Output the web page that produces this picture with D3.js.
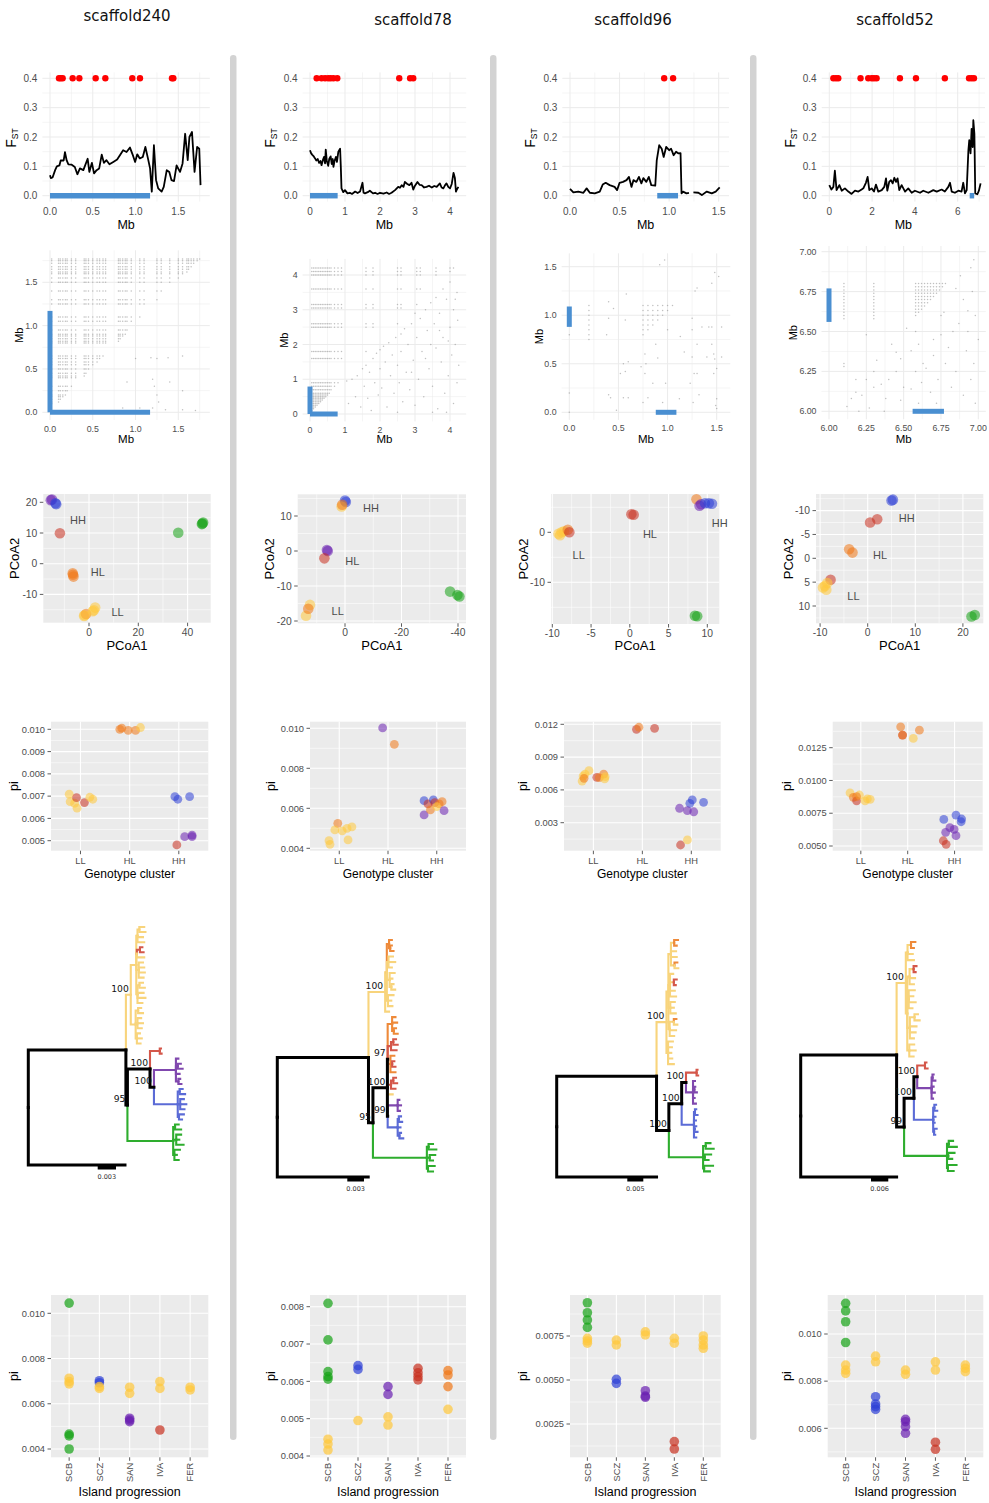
<!DOCTYPE html>
<html>
<head>
<meta charset="utf-8">
<script src="https://cdn.jsdelivr.net/npm/d3@7"></script>
<style>
  body { margin: 0; background: #fff; }
  svg { display: block; }
</style>
</head>
<body>
<script>
// ---------------------------------------------------------------------------
// Data
// ---------------------------------------------------------------------------
const scaffolds = ["scaffold240", "scaffold78", "scaffold96", "scaffold52"];
const clusterCats = ["LL", "HL", "HH"];
const islandCats = ["SCB", "SCZ", "SAN", "IVA", "FER"];

// Sliding-window FST along each scaffold: [Mb, FST]; null breaks the line
const fst240 = [[0,0.070],[0.01,0.060],[0.03,0.062],[0.06,0.087],[0.08,0.100],[0.11,0.103],[0.125,0.120],[0.16,0.120],[0.175,0.148],[0.195,0.120],[0.215,0.107],[0.25,0.106],[0.29,0.098],[0.32,0.073],[0.35,0.093],[0.39,0.087],[0.44,0.126],[0.46,0.081],[0.49,0.112],[0.515,0.076],[0.545,0.087],[0.575,0.093],[0.605,0.140],[0.63,0.112],[0.66,0.121],[0.695,0.107],[0.74,0.115],[0.785,0.123],[0.825,0.141],[0.855,0.155],[0.895,0.149],[0.935,0.164],[0.965,0.141],[0.995,0.115],[1.02,0.141],[1.05,0.127],[1.085,0.132],[1.115,0.166],[1.145,0.127],[1.17,0.093],[1.19,0.014],[1.215,0.172],[1.24,0.053],[1.265,0.025],[1.305,0.014],[1.33,0.030],[1.365,0.087],[1.395,0.081],[1.42,0.053],[1.45,0.050],[1.48,0.103],[1.52,0.081],[1.55,0.110],[1.58,0.211],[1.61,0.121],[1.63,0.200],[1.66,0.217],[1.69,0.081],[1.72,0.166],[1.745,0.160],[1.76,0.036]];
const fst78 = [[0,0.155],[0.03,0.145],[0.06,0.140],[0.1,0.135],[0.14,0.128],[0.18,0.120],[0.22,0.125],[0.26,0.112],[0.3,0.118],[0.33,0.104],[0.37,0.122],[0.4,0.132],[0.43,0.110],[0.45,0.157],[0.48,0.118],[0.52,0.102],[0.55,0.125],[0.59,0.134],[0.62,0.108],[0.65,0.125],[0.67,0.098],[0.7,0.118],[0.74,0.132],[0.77,0.115],[0.81,0.150],[0.86,0.160],[0.88,0.100],[0.9,0.025],[0.95,0.012],[1.0,0.019],[1.07,0.008],[1.14,0.010],[1.2,0.006],[1.29,0.014],[1.36,0.009],[1.43,0.014],[1.5,0.044],[1.53,0.010],[1.57,0.008],[1.65,0.012],[1.71,0.017],[1.8,0.008],[1.86,0.010],[1.93,0.006],[2.0,0.010],[2.1,0.007],[2.19,0.011],[2.26,0.006],[2.33,0.010],[2.43,0.019],[2.52,0.030],[2.57,0.027],[2.62,0.036],[2.67,0.030],[2.71,0.047],[2.78,0.040],[2.84,0.036],[2.9,0.044],[2.95,0.021],[3.0,0.034],[3.07,0.047],[3.13,0.037],[3.19,0.036],[3.26,0.028],[3.33,0.030],[3.4,0.034],[3.48,0.028],[3.55,0.033],[3.62,0.030],[3.71,0.042],[3.76,0.028],[3.81,0.025],[3.86,0.036],[3.9,0.042],[3.95,0.030],[4.0,0.025],[4.05,0.040],[4.1,0.078],[4.14,0.060],[4.17,0.014],[4.2,0.022],[4.24,0.030]];
const fst96 = [[0,0.023],[0.034,0.011],[0.084,0.014],[0.135,0.010],[0.168,0.025],[0.2,0.010],[0.25,0.008],[0.3,0.014],[0.33,0.038],[0.36,0.044],[0.4,0.036],[0.45,0.030],[0.475,0.019],[0.5,0.044],[0.535,0.047],[0.57,0.053],[0.595,0.064],[0.62,0.030],[0.64,0.053],[0.67,0.047],[0.695,0.064],[0.72,0.042],[0.74,0.060],[0.77,0.047],[0.795,0.064],[0.82,0.036],[0.86,0.034],[0.875,0.120],[0.9,0.172],[0.925,0.160],[0.945,0.132],[0.97,0.166],[1.0,0.155],[1.02,0.160],[1.045,0.138],[1.07,0.150],[1.095,0.144],[1.115,0.145],[1.125,0.008],[1.14,0.014],[1.175,0.008],[1.2,0.010],null,[1.245,0.011],[1.295,0.010],[1.33,0.002],[1.38,0.014],[1.43,0.008],[1.47,0.014],[1.51,0.028]];
const fst52 = [[0,0.036],[0.1,0.021],[0.19,0.030],[0.26,0.085],[0.34,0.019],[0.47,0.036],[0.58,0.017],[0.73,0.025],[0.89,0.014],[1.04,0.006],[1.2,0.017],[1.36,0.014],[1.51,0.021],[1.59,0.025],[1.71,0.044],[1.79,0.064],[1.87,0.019],[1.98,0.025],[2.09,0.014],[2.18,0.038],[2.29,0.014],[2.45,0.019],[2.57,0.030],[2.65,0.059],[2.71,0.017],[2.8,0.047],[2.88,0.053],[2.96,0.042],[3.04,0.061],[3.12,0.047],[3.19,0.059],[3.27,0.019],[3.38,0.036],[3.54,0.014],[3.69,0.025],[3.85,0.010],[4.0,0.017],[4.24,0.010],[4.39,0.017],[4.63,0.010],[4.86,0.019],[5.02,0.014],[5.25,0.021],[5.4,0.014],[5.56,0.030],[5.64,0.044],[5.72,0.014],[5.87,0.010],[6.03,0.017],[6.18,0.014],[6.26,0.044],[6.34,0.008],[6.42,0.019],[6.5,0.155],[6.54,0.189],[6.6,0.144],[6.65,0.228],[6.7,0.166],[6.73,0.257],[6.78,0.211],[6.82,0.008],[6.92,0.005],[6.99,0.017],[7.07,0.042]];

// Outlier windows (Mb), plotted along FST = 0.4
const outliers240 = [0.105,0.125,0.148,0.265,0.343,0.534,0.647,0.962,1.052,1.426,1.442];
const outliers78 = [0.19,0.33,0.43,0.52,0.59,0.67,0.78,2.55,2.86,2.95];
const outliers96 = [0.95,1.04];
const outliers52 = [0.19,0.31,0.42,1.46,1.82,1.98,2.09,2.21,3.30,4.05,5.40,6.53,6.65,6.76];

// Candidate inversion / sweep region per scaffold (Mb start, end)
const region240 = [0, 1.17];
const region78 = [0, 0.79];
const region96 = [0.88, 1.09];
const region52 = [6.56, 6.77];

// Linkage: SNP sites in strong LD (every pair is drawn above the diagonal)
const ldSites240 = [0.02,0.1,0.12,0.15,0.18,0.2,0.25,0.3,0.4,0.42,0.45,0.5,0.55,0.58,0.62,0.65,0.8,0.82,0.85,0.88,0.9,0.95,1.05,1.1,1.25,1.3,1.4,1.5,1.55,1.6,1.62,1.65,1.68,1.72,1.75,1.77];
const ldSites78 = [0.05,0.1,0.15,0.2,0.25,0.3,0.35,0.4,0.45,0.5,0.55,0.6,0.7,0.8,0.9,1.6,1.8,2.5,2.6,3.05,3.15,3.6,4.0,4.1,4.2];
const ldSites96 = [0.2,0.75,0.8,0.85,0.9,0.95,1.0,1.05,1.1];
const ldSites52 = [6.1,6.3,6.58,6.6,6.62,6.64,6.66,6.68,6.7,6.72,6.74,6.76,6.78,6.8];
// Other linked pairs [Mb, Mb]
const ldPairs240 = [[1.05,0.05],[1.2,0.05],[1.35,0.03],[1.55,0.03],[1.7,0.02],[1.25,0.2],[1.55,0.25],[1.2,0.38],[1.4,0.35],[0.9,0.35],[1.0,0.62],[1.18,0.63],[1.25,0.62],[1.38,0.63],[1.55,0.65],[1.22,0.3],[1.27,0.12],[0.85,0.05]];
const ldPairs78 = [[1.05,0.95],[1.1,0.3],[1.2,1.0],[1.3,0.5],[1.35,1.1],[1.45,0.2],[1.5,1.3],[1.55,0.8],[1.6,1.4],[1.65,0.45],[1.7,1.2],[1.75,0.1],[1.8,1.6],[1.85,0.9],[1.9,1.75],[1.95,0.55],[2.0,1.85],[2.0,1.3],[2.05,0.75],[2.1,1.95],[2.15,1.5],[2.2,0.2],[2.25,2.05],[2.3,1.1],[2.35,1.7],[2.4,0.6],[2.45,2.2],[2.5,1.4],[2.55,0.9],[2.6,2.3],[2.6,1.8],[2.65,0.35],[2.7,2.45],[2.75,1.2],[2.8,2.0],[2.85,0.7],[2.9,2.6],[2.95,1.55],[3.0,2.9],[3.0,0.25],[3.05,2.2],[3.1,1.0],[3.15,2.75],[3.2,1.8],[3.25,0.5],[3.3,3.0],[3.35,2.4],[3.4,1.3],[3.45,3.2],[3.5,0.8],[3.55,2.6],[3.6,1.9],[3.6,3.35],[3.65,0.15],[3.7,2.9],[3.75,1.5],[3.8,3.6],[3.8,2.2],[3.85,0.6],[3.9,3.3],[3.95,1.1],[4.0,3.8],[4.0,2.5],[4.05,1.7],[4.1,0.3],[4.1,3.0],[4.15,2.0],[4.2,3.5],[4.2,0.9],[4.25,1.4],[3.9,0.05],[3.5,0.05],[2.5,0.05],[4.22,2.7],[3.3,1.6],[3.7,2.4],[3.95,2.1],[2.9,1.2],[3.45,2.0],[4.15,3.3]];
const ldPairs96 = [[0.0,0.8],[0.0,0.2],[0.0,0.0],[0.4,1.14],[0.4,0.97],[0.38,0.8],[0.45,1.07],[0.4,0.18],[0.42,0.15],[0.48,0.02],[0.55,0.5],[0.57,0.42],[0.6,0.52],[0.52,0.4],[0.55,0.15],[0.6,0.15],[0.57,0.95],[0.58,1.22],[0.73,0.47],[0.77,0.6],[0.77,0.4],[0.78,0.5],[0.75,0.1],[0.8,0.15],[0.85,0.3],[0.88,0.7],[0.9,0.56],[0.92,1.52],[0.97,1.57],[0.98,0.3],[1.0,0.85],[0.95,0.1],[1.13,0.78],[1.17,0.62],[1.12,0.14],[1.25,0.97],[1.25,0.85],[1.25,0.57],[1.26,0.1],[1.23,0.3],[1.28,1.25],[1.3,1.28],[1.27,0.4],[1.32,0.18],[1.3,0.4],[1.3,0.7],[1.35,0.88],[1.4,0.57],[1.42,0.88],[1.45,1.33],[1.48,1.44],[1.45,0.7],[1.47,0.6],[1.5,0.45],[1.48,0.55],[1.5,0.04],[1.5,0.14],[1.52,1.4],[1.55,0.57],[1.55,0.88],[1.45,0.88],[1.47,0.4],[1.49,0.07]];
const ldPairs52 = [[6.1,6.28],[6.12,6.03],[6.15,6.08],[6.18,6.12],[6.18,6.2],[6.2,6.0],[6.22,6.1],[6.25,6.2],[6.25,6.48],[6.3,6.25],[6.32,6.32],[6.3,6.15],[6.35,6.17],[6.38,6.08],[6.4,6.2],[6.42,6.42],[6.45,6.37],[6.45,6.25],[6.48,6.07],[6.5,6.15],[6.52,6.52],[6.55,6.14],[6.58,6.25],[6.58,6.5],[6.6,6.05],[6.6,6.42],[6.62,6.18],[6.63,6.3],[6.65,6.27],[6.68,6.12],[6.7,6.45],[6.7,6.35],[6.72,6.05],[6.73,6.2],[6.75,6.48],[6.75,6.6],[6.77,6.62],[6.78,6.3],[6.8,6.4],[6.82,6.15],[6.83,6.5],[6.85,6.77],[6.85,6.25],[6.87,6.55],[6.88,6.85],[6.9,6.1],[6.9,6.7],[6.92,6.38],[6.93,6.5],[6.95,6.9],[6.95,6.2],[6.97,6.95],[6.97,6.3],[6.98,6.6],[6.98,6.05],[7.0,6.45],[6.96,6.75],[6.93,6.63],[6.55,6.38],[6.48,6.33],[6.37,6.0],[6.27,6.02]];

// PCoA of individuals within each region: [PCoA1, PCoA2, island colour]
const pcoa240 = [[-15.5,20.7,"P"],[-15,20.9,"P"],[-13.3,19.4,"B"],[-13.6,19.7,"B"],[-11.8,9.9,"R"],[36.2,10.1,"G"],[46,13.1,"G"],[46.3,13.4,"G"],[45.8,12.9,"G"],[-6.6,-3.1,"O"],[-6.3,-4.2,"O"],[-6.5,-3.6,"O"],[-2,-17,"Y"],[-1.2,-16.4,"O"],[1.5,-15.5,"Y"],[2.5,-14.3,"Y"],[2,-15.2,"Y"],[-1.8,-16.8,"Y"]];
const pcoa78 = [[0,14.4,"B"],[-0.3,14,"B"],[1.2,12.7,"Y"],[1,13.2,"O"],[6.1,0,"P"],[6.4,0.3,"P"],[7.3,-2.1,"R"],[12.4,-15.4,"Y"],[13.8,-18.5,"Y"],[13,-16.5,"O"],[-37.2,-11.6,"G"],[-39.8,-12.6,"G"],[-40.5,-13,"G"]];
const pcoa96 = [[-9.2,-0.3,"Y"],[-8.8,0,"Y"],[-9,-0.6,"Y"],[-8.5,0.2,"Y"],[-8,0.5,"O"],[-7.8,0,"R"],[0.2,3.6,"R"],[0.5,3.5,"R"],[8.6,6.6,"O"],[9,5.3,"P"],[9.2,5.6,"P"],[9.7,5.8,"B"],[10.2,5.8,"B"],[10.6,5.7,"B"],[8.4,-16.7,"G"],[8.7,-16.8,"G"]];
const pcoa52 = [[5,-12.1,"B"],[5.3,-12.3,"B"],[0.5,-7.5,"R"],[2,-8.2,"R"],[-3.9,-1.9,"O"],[-3.2,-1.2,"O"],[-7.8,4.5,"R"],[-9,5.8,"Y"],[-8.7,6.6,"Y"],[-9.4,6.1,"Y"],[-8.5,5.2,"Y"],[21.8,12.2,"G"],[22.5,11.9,"G"]];
// Genotype-cluster annotations [label, PCoA1, PCoA2]
const pcoaLabels240 = [["HH",-4.5,14.2],["HL",3.6,-2.7],["LL",11.6,-15.8]];
const pcoaLabels78 = [["HH",-9.2,12.3],["HL",-2.6,-3],["LL",2.6,-17.2]];
const pcoaLabels96 = [["HH",11.6,1.9],["HL",2.6,-0.4],["LL",-6.6,-4.5]];
const pcoaLabels52 = [["HH",8.2,-8.5],["HL",2.6,-0.7],["LL",-3,8]];

// Nucleotide diversity per genotype cluster: [cluster, jitter, pi, colour]
const piCluster240 = [["LL",-0.23,0.00709,"Y"],["LL",-0.21,0.00675,"Y"],["LL",-0.12,0.00668,"Y"],["LL",-0.07,0.00646,"Y"],["LL",-0.08,0.00693,"R"],["LL",0.08,0.00671,"R"],["LL",0.19,0.00695,"Y"],["LL",0.25,0.00686,"Y"],["HL",-0.2,0.0100,"O"],["HL",-0.16,0.01005,"O"],["HL",-0.03,0.00995,"O"],["HL",0.12,0.00995,"O"],["HL",0.22,0.01008,"Y"],["HH",-0.08,0.00698,"B"],["HH",-0.02,0.00686,"B"],["HH",0.22,0.00698,"B"],["HH",-0.04,0.00481,"R"],["HH",0.12,0.00518,"P"],["HH",0.27,0.00525,"P"],["HH",0.27,0.00518,"P"]];
const piCluster78 = [["LL",-0.03,0.00525,"O"],["LL",-0.09,0.00492,"Y"],["LL",0.06,0.00487,"Y"],["LL",0.16,0.0050,"Y"],["LL",0.26,0.00507,"Y"],["LL",-0.21,0.00438,"Y"],["LL",-0.19,0.0042,"Y"],["LL",0.18,0.00442,"Y"],["HL",-0.11,0.01002,"P"],["HL",0.13,0.0092,"O"],["HH",-0.26,0.00638,"B"],["HH",-0.26,0.00567,"P"],["HH",-0.18,0.00622,"R"],["HH",-0.07,0.00642,"B"],["HH",-0.04,0.00628,"R"],["HH",-0.13,0.00592,"O"],["HH",0.05,0.00622,"O"],["HH",0.11,0.00633,"O"],["HH",0.0,0.00608,"Y"],["HH",0.15,0.00588,"P"]];
const piCluster96 = [["LL",-0.23,0.00681,"Y"],["LL",-0.21,0.00727,"Y"],["LL",-0.17,0.00745,"Y"],["LL",-0.09,0.00776,"Y"],["LL",-0.19,0.00706,"O"],["LL",0.07,0.00715,"R"],["LL",0.12,0.00712,"O"],["LL",0.21,0.00745,"O"],["LL",0.24,0.00721,"Y"],["LL",0.23,0.0070,"Y"],["HL",-0.12,0.01154,"R"],["HL",-0.07,0.01173,"O"],["HL",0.25,0.01163,"R"],["HH",-0.24,0.00432,"P"],["HH",-0.03,0.00477,"B"],["HH",0.02,0.00508,"B"],["HH",0.25,0.00486,"B"],["HH",-0.08,0.0041,"P"],["HH",0.05,0.0040,"P"],["HH",-0.22,0.00096,"R"],["HH",-0.08,0.00142,"Y"]];
const piCluster52 = [["LL",-0.23,0.00906,"Y"],["LL",-0.16,0.00871,"O"],["LL",-0.09,0.00845,"R"],["LL",-0.03,0.00889,"Y"],["LL",0.09,0.00845,"Y"],["LL",0.14,0.0086,"Y"],["LL",0.2,0.00856,"Y"],["LL",-0.09,0.00876,"O"],["HL",-0.15,0.01409,"O"],["HL",-0.11,0.01346,"R"],["HL",-0.11,0.01346,"O"],["HL",0.12,0.01321,"Y"],["HL",0.25,0.01384,"O"],["HH",-0.23,0.00703,"B"],["HH",0.03,0.00736,"B"],["HH",0.15,0.00706,"B"],["HH",0.14,0.00685,"B"],["HH",-0.1,0.0064,"P"],["HH",-0.01,0.00627,"P"],["HH",-0.19,0.00604,"P"],["HH",0.03,0.00579,"P"],["HH",-0.24,0.0054,"R"],["HH",-0.18,0.00513,"R"]];

// Nucleotide diversity per island: [island, pi, colour]
const piIsland240 = [["SCB",0.01045,"G"],["SCB",0.00713,"Y"],["SCB",0.00698,"Y"],["SCB",0.00688,"Y"],["SCB",0.00466,"G"],["SCB",0.00458,"G"],["SCB",0.0040,"G"],["SCZ",0.00702,"B"],["SCZ",0.00693,"B"],["SCZ",0.00676,"Y"],["SCZ",0.00668,"Y"],["SAN",0.00673,"Y"],["SAN",0.00646,"Y"],["SAN",0.00536,"P"],["SAN",0.00521,"P"],["SAN",0.00528,"P"],["IVA",0.00698,"Y"],["IVA",0.00668,"Y"],["IVA",0.00484,"R"],["FER",0.00673,"Y"],["FER",0.00661,"Y"]];
const piIsland78 = [["SCB",0.00809,"G"],["SCB",0.00711,"G"],["SCB",0.00626,"G"],["SCB",0.00613,"G"],["SCB",0.00606,"G"],["SCB",0.00445,"Y"],["SCB",0.00432,"Y"],["SCB",0.00416,"Y"],["SCZ",0.00642,"B"],["SCZ",0.00632,"B"],["SCZ",0.00495,"Y"],["SAN",0.00586,"P"],["SAN",0.00565,"P"],["SAN",0.00505,"Y"],["SAN",0.00483,"Y"],["IVA",0.00635,"R"],["IVA",0.00623,"R"],["IVA",0.00613,"R"],["IVA",0.00604,"R"],["FER",0.00629,"O"],["FER",0.00617,"O"],["FER",0.00586,"O"],["FER",0.00525,"Y"]];
const piIsland96 = [["SCB",0.00939,"G"],["SCB",0.00882,"G"],["SCB",0.00841,"G"],["SCB",0.00799,"G"],["SCB",0.00737,"Y"],["SCB",0.00722,"Y"],["SCB",0.00709,"Y"],["SCZ",0.00727,"Y"],["SCZ",0.00699,"Y"],["SCZ",0.00504,"B"],["SCZ",0.00481,"B"],["SAN",0.00774,"Y"],["SAN",0.00756,"Y"],["SAN",0.00439,"P"],["SAN",0.00409,"P"],["SAN",0.00402,"P"],["IVA",0.00737,"Y"],["IVA",0.00709,"Y"],["IVA",0.0015,"R"],["IVA",0.00108,"R"],["FER",0.0075,"Y"],["FER",0.00727,"Y"],["FER",0.00699,"Y"],["FER",0.0068,"Y"]];
const piIsland52 = [["SCB",0.0113,"G"],["SCB",0.01098,"G"],["SCB",0.01052,"G"],["SCB",0.00964,"G"],["SCB",0.00868,"Y"],["SCB",0.00847,"Y"],["SCB",0.00833,"Y"],["SCZ",0.00906,"Y"],["SCZ",0.00882,"Y"],["SCZ",0.00734,"B"],["SCZ",0.00703,"B"],["SCZ",0.00692,"B"],["SCZ",0.0068,"B"],["SAN",0.00847,"Y"],["SAN",0.00829,"Y"],["SAN",0.00638,"P"],["SAN",0.00628,"P"],["SAN",0.00607,"P"],["SAN",0.00579,"P"],["IVA",0.00882,"Y"],["IVA",0.00847,"Y"],["IVA",0.00541,"R"],["IVA",0.00511,"R"],["FER",0.00868,"Y"],["FER",0.00854,"Y"],["FER",0.0084,"Y"]];

// Region phylogenies (Newick; branch lengths in 1e-3 substitutions/site).
// Node names: colour letter + optional bootstrap support.
const tree240 = "((((((:0.8,:1.0):0.3,:0.9,:1.1):0.2,((:0.4,:0.6)R:0.5,:1.2):0.1,(:0.7,:0.9,:1.0,:0.8):0.4,((:0.6,:0.9):0.3,:1.0,:1.3,:0.8):0.2):0.9,((:0.5,:0.8):0.4,(:0.6,:0.9,:0.7):0.3,(:0.5,:0.8,:0.6):0.2):0.8)Y100:0.8,(((:0.2,:0.3)R:1.6,((:0.4,(:0.5,:0.8):0.3,:0.6,(:0.3,:0.5):0.4)P:3.6,((:0.5,:0.9):0.3,(:0.6,:1.0,:0.7):0.4,(:0.8,:0.5):0.2)B:3.9)K100:0.65)K100:3.7,((:0.6,:1.0):0.3,(:0.8,:0.5,:1.2):0.5,(:0.9,:0.4,:0.7):0.2)G:7.5)K95:0.25)K:16.0,K:15.85)K;";
const tree78 = "(((((:0.5,(:0.3,:0.6):0.2)O:0.4,(:0.8,:1.2,:0.6):0.3,(:0.9,:0.5,(:0.4,:0.7):0.3):0.5,(:1.0,:0.6,:0.8):0.2):0.3,:0.7)Y100:3.0,((((:0.6,:0.9,(:0.4,:0.7):0.3)O:0.8,((:0.5,:0.8):0.4,:1.0)R:0.6,(:0.7,(:0.4,:0.6)R:0.3,:0.9)O:0.5,((:0.5,:0.7):0.4,:0.8)R:0.6,Y:0.9)K97:0.05,((:0.3,:0.6,:0.4)P:1.8,((:0.4,:0.6):0.2,:0.5,(:0.3,:0.7):0.3)B:1.8)K99:0.05)K100:2.6,((:0.8,:1.4):0.3,(:1.0,:0.6):0.5,(:1.2,:0.9):0.2)G:9.7)K95:0.8)K:16.4,K:16.35)K;";
const tree96 = "((((((O:1.2,O:0.8):1.0,:1.6,:1.8,(O:0.9,:1.2):1.1):0.8,(:1.0,(R:0.9,R:0.6):1.2,:1.5,:1.9):0.5,(:1.4,:1.1,:1.7):0.6,((O:0.8,:1.1):1.3,:2.0,:1.4):0.4):0.6,(:1.5,:1.2,:1.0,:1.3,:1.8):0.5)Y100:3.1,((((:0.3,:0.5)R:3.3,(:0.6,(:0.3,:0.8):0.4,:0.5,:0.9)P:2.2)K100:1.35,((:0.4,:0.8):0.3,:0.6,(:0.5,:0.9):0.2,:0.7)B:3.85)K100:4.0,((:1.5,:2.5):0.8,(:2.0,:1.2):0.5,(:2.8,:1.8):0.3)G:10.7)K100:3.85)K:31.2,K:31.2)K;";
const tree52 = "(((((O:1.5,O:1.0):1.2,:1.8,:2.2):0.6,(((R:1.0,R:0.7):1.4,:1.9,:1.5):0.8,(:2.1,:1.6,:2.4,:1.3):0.5,((:1.2,:1.8):1.6,:2.3,:2.0,:1.4):0.9,(:1.7,:2.2,:1.5):0.7):0.5)Y100:3.2,((((:0.5,:0.9)R:2.7,((:0.4,:1.0):0.3,:0.7,:1.1,:0.5)P:5.0)K100:1.15,((:0.6,:1.0):0.4,:0.8,:0.5,(:0.9,:0.4):0.3)B:6.7)K100:3.4,((:1.5,:2.8):0.6,(:2.2,:1.4):0.4,(:3.0,:2.0):0.3)G:14.9)K99:2.6)K:33.3,K:33.3)K;";
const treeScaleBars = [0.003, 0.003, 0.005, 0.006];

// ---------------------------------------------------------------------------
// Styling / layout
// ---------------------------------------------------------------------------
const pointPal = { Y: "#FFC83C", O: "#F07818", R: "#C8301F", P: "#6A20B0", B: "#2E40D6", G: "#16A316" };
const treePal  = { Y: "#F8D47C", O: "#EE8A3A", R: "#D4574A", P: "#8048AE", B: "#5B6BD6", G: "#2EAD2E", K: "#000000" };
const REGION_BLUE = "#4A8FD1";
const TICK_TXT = "#4D4D4D";
const SANS = "'Liberation Sans', Arial, Helvetica, sans-serif";
const DEJAVU = "'DejaVu Sans', Verdana, sans-serif";

const fstSeries = [fst240, fst78, fst96, fst52];
const outlierSeries = [outliers240, outliers78, outliers96, outliers52];
const regions = [region240, region78, region96, region52];
const ldSites = [ldSites240, ldSites78, ldSites96, ldSites52];
const ldPairs = [ldPairs240, ldPairs78, ldPairs96, ldPairs52];
const pcoaSeries = [pcoa240, pcoa78, pcoa96, pcoa52];
const pcoaLabels = [pcoaLabels240, pcoaLabels78, pcoaLabels96, pcoaLabels52];
const piClusterSeries = [piCluster240, piCluster78, piCluster96, piCluster52];
const piIslandSeries = [piIsland240, piIsland78, piIsland96, piIsland52];
const treeSeries = [tree240, tree78, tree96, tree52];

const titlePos = [[127, 21], [413, 25], [633, 25], [895, 25]];

const fstLayout = [
  { rect: [42.4, 72.4, 209.8, 201.6], xd: [0, 1.5], xr: [50, 178.3], xMaj: [0, 0.5, 1, 1.5], xMin: [0.25, 0.75, 1.25, 1.75], xf: 1, yt: 11 },
  { rect: [302.6, 72.4, 466.2, 201.6], xd: [0, 4], xr: [310, 450], xMaj: [0, 1, 2, 3, 4], xMin: [0.5, 1.5, 2.5, 3.5], xf: 0, yt: 270 },
  { rect: [562.3, 72.4, 729, 201.6], xd: [0, 1.5], xr: [570, 718.7], xMaj: [0, 0.5, 1, 1.5], xMin: [0.25, 0.75, 1.25], xf: 1, yt: 530 },
  { rect: [821.7, 72.4, 985, 201.6], xd: [0, 6], xr: [829.3, 957.7], xMaj: [0, 2, 4, 6], xMin: [1, 3, 5, 7], xf: 0, yt: 790 }
];
const ldLayout = [
  { rect: [42.4, 250.3, 209.8, 420], xd: [0, 1.5], xr: [50, 178.3], yd: [0, 1.5], yr: [412.3, 282.3], maj: [0, 0.5, 1, 1.5], min: [0.25, 0.75, 1.25, 1.75], f: 1, yt: 19 },
  { rect: [302.6, 258.9, 466.2, 421.4], xd: [0, 4], xr: [310, 450], yd: [0, 4], yr: [414, 275], maj: [0, 1, 2, 3, 4], min: [0.5, 1.5, 2.5, 3.5], f: 0, yt: 284 },
  { rect: [561.6, 253.3, 730.3, 419.9], xd: [0, 1.5], xr: [569.3, 716.7], yd: [0, 1.5], yr: [412.3, 266.7], maj: [0, 0.5, 1, 1.5], min: [0.25, 0.75, 1.25], f: 1, yt: 539 },
  { rect: [821.5, 246, 985.8, 419.3], xd: [6, 7], xr: [829, 978.3], yd: [6, 7], yr: [411.3, 251.7], maj: [6, 6.25, 6.5, 6.75, 7], min: [6.125, 6.375, 6.625, 6.875], f: 2, yt: 793 }
];
const pcoaLayout = [
  { rect: [43.3, 494, 210.7, 622.7], xd: [0, 20], xr: [89, 138.3], yd: [0, 10], yr: [563.7, 533], xMaj: [0, 20, 40], xMin: [-10, 10, 30], yMaj: [-10, 0, 10, 20], yMin: [-15, -5, 5, 15], yt: 14 },
  { rect: [297.7, 494.3, 466, 623.3], xd: [0, -20], xr: [345, 401.5], yd: [0, 10], yr: [551, 516], xMaj: [0, -20, -40], xMin: [10, -10, -30], yMaj: [-20, -10, 0, 10], yMin: [-15, -5, 5, 15], yt: 269 },
  { rect: [551, 494, 719.3, 624], xd: [0, 10], xr: [629.8, 707.3], yd: [0, -10], yr: [532.3, 582.3], xMaj: [-10, -5, 0, 5, 10], xMin: [-7.5, -2.5, 2.5, 7.5], yMaj: [0, -10], yMin: [5, -5, -15], yt: 523 },
  { rect: [816, 494, 983.3, 623.3], xd: [0, 10], xr: [867.7, 915.3], yd: [0, 10], yr: [558.3, 606], xMaj: [-10, 0, 10, 20], xMin: [-5, 5, 15], yMaj: [-10, -5, 0, 5, 10], yMin: [-12.5, -7.5, -2.5, 2.5, 7.5, 12.5], yt: 788 }
];
const piClusterLayout = [
  { rect: [51, 721.7, 208.3, 850.7], yd: [0.005, 0.010], yr: [840.7, 729.3], yMaj: [0.005, 0.006, 0.007, 0.008, 0.009, 0.010], yMin: [0.0055, 0.0065, 0.0075, 0.0085, 0.0095], f: 3, yt: 14 },
  { rect: [310, 721.7, 466, 850.7], yd: [0.004, 0.010], yr: [848.3, 728.3], yMaj: [0.004, 0.006, 0.008, 0.010], yMin: [0.005, 0.007, 0.009], f: 3, yt: 271 },
  { rect: [564, 721.7, 720.7, 850.7], yd: [0.003, 0.012], yr: [822.7, 724.3], yMaj: [0.003, 0.006, 0.009, 0.012], yMin: [0.0015, 0.0045, 0.0075, 0.0105], f: 3, yt: 523 },
  { rect: [832.7, 721.7, 982.7, 850.7], yd: [0.005, 0.0125], yr: [846, 747.7], yMaj: [0.005, 0.0075, 0.01, 0.0125], yMin: [0.00625, 0.00875, 0.01125, 0.01375], f: 4, yt: 787 }
];
const piIslandLayout = [
  { rect: [51, 1295, 208.3, 1457.3], yd: [0.004, 0.010], yr: [1449, 1313.3], yMaj: [0.004, 0.006, 0.008, 0.010], yMin: [0.005, 0.007, 0.009], f: 3, yt: 14 },
  { rect: [310, 1295, 466, 1457.3], yd: [0.004, 0.008], yr: [1456, 1306.7], yMaj: [0.004, 0.005, 0.006, 0.007, 0.008], yMin: [0.0045, 0.0055, 0.0065, 0.0075], f: 3, yt: 271 },
  { rect: [570, 1295, 720.7, 1457.3], yd: [0.0025, 0.0075], yr: [1424, 1336], yMaj: [0.0025, 0.005, 0.0075], yMin: [0.00125, 0.00375, 0.00625, 0.00875], f: 4, yt: 523 },
  { rect: [827.7, 1295, 983.3, 1457.3], yd: [0.006, 0.010], yr: [1428.3, 1334], yMaj: [0.006, 0.008, 0.010], yMin: [0.005, 0.007, 0.009, 0.011], f: 3, yt: 787 }
];
const treeLayout = [
  { rootX: 28.3, k: 6.1, top: 927, bottom: 1165, sbX: 97.7 },
  { rootX: 277.3, k: 5.56, top: 940, bottom: 1177, sbX: 347.3 },
  { rootX: 556.7, k: 3.2, top: 940, bottom: 1177, sbX: 627.3 },
  { rootX: 800.7, k: 2.88, top: 942, bottom: 1177, sbX: 871 }
];

// ---------------------------------------------------------------------------
// Drawing helpers
// ---------------------------------------------------------------------------
const svg = d3.select("body").append("svg")
  .attr("width", 989).attr("height", 1503)
  .style("font-family", SANS);

const fixed = n => v => v.toFixed(n);

function panel(o) {
  const [x0, y0, x1, y1] = o.rect;
  const g = svg.append("g");
  const x = o.xCats
    ? d3.scalePoint().domain(o.xCats).range([x0, x1]).padding(0.6)
    : d3.scaleLinear().domain(o.xd).range(o.xr);
  const y = d3.scaleLinear().domain(o.yd).range(o.yr);
  const gray = !!o.gray;
  if (gray) g.append("rect").attr("x", x0).attr("y", y0).attr("width", x1 - x0).attr("height", y1 - y0).attr("fill", "#EBEBEB");
  const gc = gray ? "#FFFFFF" : "#EBEBEB";
  const minW = gray ? 0.55 : 0.5, majW = gray ? 1.1 : 1;
  const vline = (px, w) => g.append("line").attr("x1", px).attr("x2", px).attr("y1", y0).attr("y2", y1).attr("stroke", gc).attr("stroke-width", w);
  const hline = (py, w) => g.append("line").attr("x1", x0).attr("x2", x1).attr("y1", py).attr("y2", py).attr("stroke", gc).attr("stroke-width", w);
  (o.xMin || []).forEach(v => vline(x(v), minW));
  (o.yMin || []).forEach(v => hline(y(v), minW));
  const xTicks = o.xCats || o.xMaj;
  xTicks.forEach(v => vline(x(v), majW));
  o.yMaj.forEach(v => hline(y(v), majW));
  if (gray) {
    xTicks.forEach(v => g.append("line").attr("x1", x(v)).attr("x2", x(v)).attr("y1", y1).attr("y2", y1 + 3.5).attr("stroke", "#333").attr("stroke-width", 0.8));
    o.yMaj.forEach(v => g.append("line").attr("x1", x0 - 3.5).attr("x2", x0).attr("y1", y(v)).attr("y2", y(v)).attr("stroke", "#333").attr("stroke-width", 0.8));
  }
  const fs = o.fs || 9.5;
  o.yMaj.forEach(v => g.append("text")
    .attr("x", x0 - (gray ? 6 : 5)).attr("y", y(v)).attr("dy", "0.35em")
    .attr("text-anchor", "end").attr("font-size", fs).attr("fill", TICK_TXT).text(o.yf(v)));
  xTicks.forEach(v => {
    if (o.rot) {
      g.append("text").attr("transform", `translate(${x(v)},${y1 + 5.5}) rotate(-90)`)
        .attr("dy", "0.35em").attr("text-anchor", "end").attr("font-size", fs).attr("fill", TICK_TXT).text(v);
    } else {
      g.append("text").attr("x", x(v)).attr("y", y1 + o.xlo)
        .attr("text-anchor", "middle").attr("font-size", fs).attr("fill", TICK_TXT)
        .text(o.xCats ? v : o.xf(v));
    }
  });
  return { g, x, y };
}

function xTitle(cx, by, txt, fs) {
  svg.append("text").attr("x", cx).attr("y", by).attr("text-anchor", "middle")
    .attr("font-size", fs).attr("fill", "#000").text(txt);
}
function yTitle(cx, cy, txt, fs) {
  svg.append("text").attr("transform", `translate(${cx},${cy}) rotate(-90)`)
    .attr("dy", "0.35em").attr("text-anchor", "middle")
    .attr("font-size", fs).attr("fill", "#000").text(txt);
}

function parseNewick(s) {
  let i = 0;
  function node() {
    const n = { children: [] };
    if (s[i] === "(") {
      i++;
      n.children.push(node());
      while (s[i] === ",") { i++; n.children.push(node()); }
      i++; // closing ')'
    }
    let name = "";
    while (i < s.length && !",():;".includes(s[i])) name += s[i++];
    n.name = name;
    n.len = 0;
    if (s[i] === ":") {
      i++;
      let num = "";
      while (i < s.length && !",();".includes(s[i])) num += s[i++];
      n.len = +num;
    }
    if (!n.children.length) delete n.children;
    return n;
  }
  return node();
}

// Column separators
[[230, 55], [490, 55], [750, 55]].forEach(([sx, sy]) =>
  svg.append("rect").attr("x", sx).attr("y", sy).attr("width", 6.5).attr("height", 1385)
    .attr("rx", 3.2).attr("fill", "#D3D3D3"));

// ---------------------------------------------------------------------------
// Columns
// ---------------------------------------------------------------------------
scaffolds.forEach((name, c) => {
  // Title
  svg.append("text").attr("x", titlePos[c][0]).attr("y", titlePos[c][1])
    .attr("text-anchor", "middle").attr("font-family", DEJAVU).attr("font-size", 15)
    .attr("fill", "#111").text(name);

  // --- FST along the scaffold -------------------------------------------
  {
    const L = fstLayout[c];
    const { g, x, y } = panel({
      rect: L.rect, xd: L.xd, xr: L.xr, yd: [0, 0.4], yr: [195.7, 78.3],
      xMaj: L.xMaj, xMin: L.xMin, yMaj: [0, 0.1, 0.2, 0.3, 0.4], yMin: [0.05, 0.15, 0.25, 0.35],
      xf: fixed(L.xf), yf: fixed(1), fs: 10, xlo: 13
    });
    const reg = regions[c];
    g.append("line").attr("x1", x(reg[0])).attr("x2", x(reg[1])).attr("y1", y(0)).attr("y2", y(0))
      .attr("stroke", REGION_BLUE).attr("stroke-width", 5.5);
    const line = d3.line().defined(d => d !== null).x(d => x(d[0])).y(d => y(d[1]));
    g.append("path").attr("d", line(fstSeries[c])).attr("fill", "none")
      .attr("stroke", "#000").attr("stroke-width", 1.8).attr("stroke-linejoin", "round");
    g.selectAll(null).data(outlierSeries[c]).enter().append("circle")
      .attr("cx", d => x(d)).attr("cy", y(0.4)).attr("r", 3.2).attr("fill", "#FF0000");
    const cx = (L.rect[0] + L.rect[2]) / 2;
    xTitle(cx, 228.5, "Mb", 12.5);
    const t = svg.append("text").attr("transform", `translate(${L.yt},138) rotate(-90)`)
      .attr("dy", "0.35em").attr("text-anchor", "middle").attr("font-size", 14).attr("fill", "#000");
    t.append("tspan").text("F");
    t.append("tspan").attr("font-size", 8.5).attr("dy", 2).text("ST");
  }

  // --- LD between sites -------------------------------------------------
  {
    const L = ldLayout[c];
    const { g, x, y } = panel({
      rect: L.rect, xd: L.xd, xr: L.xr, yd: L.yd, yr: L.yr,
      xMaj: L.maj, xMin: L.min, yMaj: L.maj, yMin: L.min,
      xf: fixed(L.f), yf: fixed(L.f), fs: 8.8, xlo: 11.5
    });
    const sites = ldSites[c];
    const pts = [];
    for (let a = 0; a < sites.length; a++)
      for (let b = a + 1; b < sites.length; b++) pts.push([sites[a], sites[b]]);
    ldPairs[c].forEach(p => pts.push(p));
    g.selectAll(null).data(pts).enter().append("circle")
      .attr("cx", d => x(d[0])).attr("cy", d => y(d[1])).attr("r", 0.75)
      .attr("fill", "#8C8C8C").attr("opacity", 0.55);
    const reg = regions[c];
    const x0v = L.xd[0];
    g.append("line").attr("x1", x(x0v)).attr("x2", x(x0v)).attr("y1", y(reg[0])).attr("y2", y(reg[1]))
      .attr("stroke", REGION_BLUE).attr("stroke-width", 5);
    g.append("line").attr("x1", x(reg[0])).attr("x2", x(reg[1])).attr("y1", y(x0v)).attr("y2", y(x0v))
      .attr("stroke", REGION_BLUE).attr("stroke-width", 5);
    xTitle((L.rect[0] + L.rect[2]) / 2, 442.5, "Mb", 11.5);
    yTitle(L.yt, (L.rect[1] + L.rect[3]) / 2, "Mb", 11);
  }

  // --- PCoA -------------------------------------------------------------
  {
    const L = pcoaLayout[c];
    const { g, x, y } = panel({
      rect: L.rect, xd: L.xd, xr: L.xr, yd: L.yd, yr: L.yr,
      xMaj: L.xMaj, xMin: L.xMin, yMaj: L.yMaj, yMin: L.yMin,
      xf: v => String(v), yf: v => String(v), gray: true, fs: 10.3, xlo: 13
    });
    g.selectAll(null).data(pcoaSeries[c]).enter().append("circle")
      .attr("cx", d => x(d[0])).attr("cy", d => y(d[1])).attr("r", 5.3)
      .attr("fill", d => pointPal[d[2]]).attr("opacity", 0.55);
    g.selectAll(null).data(pcoaLabels[c]).enter().append("text")
      .attr("x", d => x(d[1])).attr("y", d => y(d[2])).attr("dy", "0.35em")
      .attr("text-anchor", "middle").attr("font-size", 11).attr("fill", "#4D4D4D").text(d => d[0]);
    xTitle((L.rect[0] + L.rect[2]) / 2, 649.5, "PCoA1", 13);
    yTitle(L.yt, (L.rect[1] + L.rect[3]) / 2, "PCoA2", 13);
  }

  // --- pi by genotype cluster -------------------------------------------
  {
    const L = piClusterLayout[c];
    const { g, x, y } = panel({
      rect: L.rect, xCats: clusterCats, yd: L.yd, yr: L.yr,
      yMaj: L.yMaj, yMin: L.yMin, yf: fixed(L.f), gray: true, fs: 9.3, xlo: 13
    });
    const step = x.step();
    g.selectAll(null).data(piClusterSeries[c]).enter().append("circle")
      .attr("cx", d => x(d[0]) + d[1] * step).attr("cy", d => y(d[2])).attr("r", 4.4)
      .attr("fill", d => pointPal[d[3]]).attr("opacity", 0.55);
    xTitle((L.rect[0] + L.rect[2]) / 2, 877.5, "Genotype cluster", 12);
    yTitle(L.yt, (L.rect[1] + L.rect[3]) / 2, "pi", 12.5);
  }

  // --- Phylogeny --------------------------------------------------------
  {
    const T = treeLayout[c];
    const root = d3.hierarchy(parseNewick(treeSeries[c]));
    root.each(d => {
      const m = /^([A-Z]?)(\d*)$/.exec(d.data.name || "") || ["", "", ""];
      d.col = m[1] || (d.parent ? d.parent.col : "K");
      d.boot = m[2];
      d.dist = d.parent ? d.parent.dist + d.data.len : 0;
    });
    const leaves = root.leaves();
    const ty = d3.scaleLinear().domain([0, leaves.length - 1]).range([T.top, T.bottom]);
    leaves.forEach((d, i) => { d.py = ty(i); });
    root.eachAfter(d => {
      if (d.children) d.py = (d.children[0].py + d.children[d.children.length - 1].py) / 2;
    });
    const tx = d3.scaleLinear().domain([0, 1]).range([T.rootX, T.rootX + T.k]);
    const g = svg.append("g");
    const branches = root.descendants().filter(d => d.parent)
      .sort((a, b) => (a.col === "K") - (b.col === "K"));
    g.selectAll(null).data(branches).enter().append("path")
      .attr("d", d => `M${tx(d.parent.dist)},${d.parent.py}V${d.py}H${tx(d.dist)}`)
      .attr("fill", "none").attr("stroke", d => treePal[d.col])
      .attr("stroke-width", d => d.col === "K" ? 3 : 2.1).attr("stroke-linecap", "square");
    g.selectAll(null).data(root.descendants().filter(d => d.boot)).enter().append("text")
      .attr("x", d => tx(d.dist) - 2).attr("y", d => d.py - 3)
      .attr("text-anchor", "end").attr("font-family", DEJAVU).attr("font-size", 9.2)
      .attr("fill", "#111").text(d => d.boot);
    const sbW = tx(treeScaleBars[c] * 1000) - tx(0);
    g.append("rect").attr("x", T.sbX).attr("y", T.bottom + 1).attr("width", sbW).attr("height", 3.5).attr("fill", "#000");
    g.append("text").attr("x", T.sbX + sbW / 2).attr("y", T.bottom + 14)
      .attr("text-anchor", "middle").attr("font-family", DEJAVU).attr("font-size", 6.5)
      .attr("fill", "#333").text(treeScaleBars[c].toFixed(3));
  }

  // --- pi by island -----------------------------------------------------
  {
    const L = piIslandLayout[c];
    const { g, x, y } = panel({
      rect: L.rect, xCats: islandCats, yd: L.yd, yr: L.yr,
      yMaj: L.yMaj, yMin: L.yMin, yf: fixed(L.f), gray: true, fs: 9.3, rot: true
    });
    g.selectAll(null).data(piIslandSeries[c]).enter().append("circle")
      .attr("cx", d => x(d[0])).attr("cy", d => y(d[1])).attr("r", 4.8)
      .attr("fill", d => pointPal[d[2]]).attr("opacity", 0.7);
    xTitle((L.rect[0] + L.rect[2]) / 2, 1495.5, "Island progression", 12.5);
    yTitle(L.yt, (L.rect[1] + L.rect[3]) / 2, "pi", 12.5);
  }
});
</script>
</body>
</html>
